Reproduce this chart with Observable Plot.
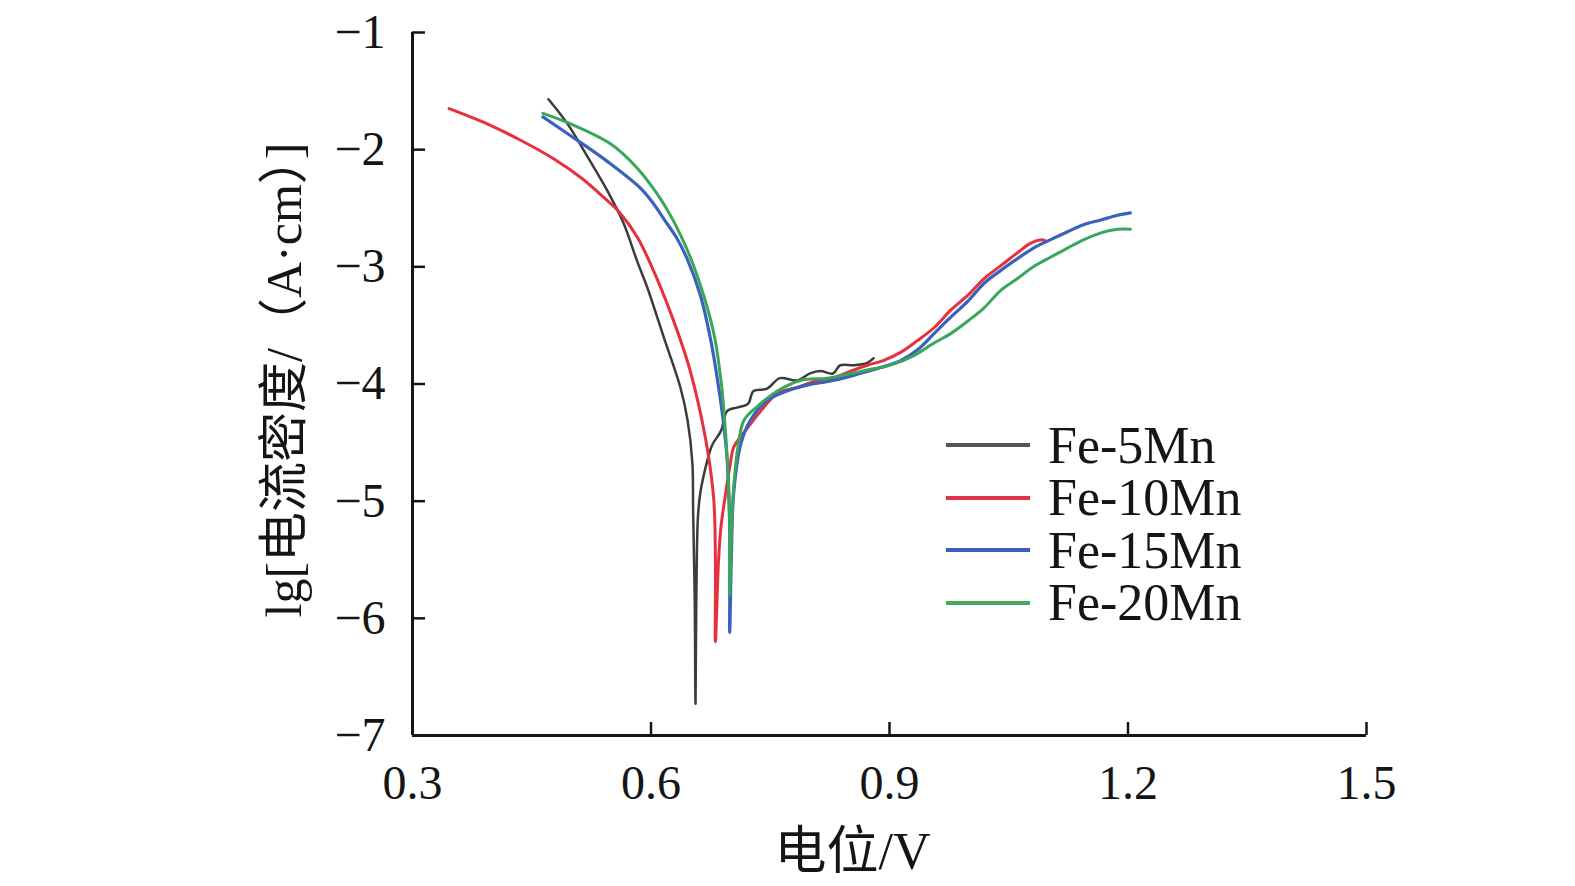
<!DOCTYPE html>
<html><head><meta charset="utf-8">
<script src="https://cdn.jsdelivr.net/npm/d3@7"></script>
<script src="https://cdn.jsdelivr.net/npm/@observablehq/plot@0.6"></script>
<style>
html,body{margin:0;padding:0;background:#fff;overflow:hidden;}
#wrap{position:relative;width:1575px;height:886px;overflow:hidden;}
#wrap svg{display:block;max-width:none !important;}
#legend{position:absolute;left:946px;top:419px;font-family:"Liberation Serif","Times New Roman",serif;font-size:52px;color:#151515;}
.row{display:flex;align-items:center;height:52.5px;}
.sw{width:84px;height:4px;margin-right:18px;}
</style></head><body><div id="wrap"><div id="legend"></div></div>
<script>
const series = ["Fe-5Mn","Fe-10Mn","Fe-15Mn","Fe-20Mn"];
const colors = ["#3c3c3c","#e5303e","#3a62bd","#3aa65b"];
const legendColors = ["#555555","#e0304a","#3a60b8","#45a862"];

const fe5V  = [0.471,0.495,0.521,0.545,0.565,0.583,0.595,0.616,0.637,0.646,0.652,0.653,0.655,0.656,0.657,0.659,0.662,0.671,0.677,0.688,0.696,0.709,0.722,0.729,0.746,0.762,0.784,0.800,0.813,0.829,0.838,0.855,0.872,0.880];
const fe5Lg = [-1.57,-1.78,-2.07,-2.35,-2.62,-2.96,-3.17,-3.60,-4.03,-4.31,-4.67,-5.08,-5.85,-6.73,-5.85,-5.14,-4.93,-4.65,-4.52,-4.40,-4.23,-4.20,-4.17,-4.06,-4.04,-3.95,-3.97,-3.91,-3.89,-3.91,-3.84,-3.84,-3.82,-3.78];

const fe10V  = [0.346,0.394,0.436,0.478,0.512,0.541,0.561,0.583,0.603,0.624,0.646,0.659,0.671,0.679,0.681,0.681,0.685,0.688,0.694,0.700,0.704,0.722,0.738,0.759,0.784,0.809,0.829,0.851,0.872,0.892,0.914,0.935,0.956,0.977,0.999,1.019,1.040,1.061,1.077,1.090,1.097];
const fe10Lg = [-1.65,-1.78,-1.92,-2.08,-2.24,-2.41,-2.54,-2.75,-3.03,-3.38,-3.81,-4.15,-4.56,-4.99,-5.50,-6.20,-5.50,-5.22,-4.93,-4.67,-4.54,-4.37,-4.23,-4.08,-4.03,-3.97,-3.95,-3.89,-3.84,-3.80,-3.73,-3.63,-3.52,-3.37,-3.24,-3.10,-2.99,-2.88,-2.80,-2.77,-2.78];

const fe15V  = [0.464,0.503,0.545,0.587,0.603,0.616,0.632,0.646,0.662,0.675,0.684,0.691,0.696,0.699,0.699,0.701,0.704,0.713,0.725,0.746,0.771,0.796,0.829,0.863,0.889,0.914,0.935,0.956,0.977,0.999,1.019,1.040,1.061,1.081,1.102,1.124,1.144,1.166,1.187,1.203];
const fe15Lg = [-1.72,-1.90,-2.10,-2.33,-2.46,-2.59,-2.75,-2.94,-3.24,-3.62,-3.98,-4.32,-4.66,-5.22,-6.12,-5.50,-4.93,-4.51,-4.31,-4.14,-4.06,-4.01,-3.97,-3.91,-3.86,-3.80,-3.71,-3.57,-3.43,-3.29,-3.14,-3.03,-2.93,-2.84,-2.77,-2.70,-2.64,-2.60,-2.56,-2.54];

const fe20V  = [0.464,0.499,0.549,0.583,0.608,0.626,0.642,0.653,0.667,0.680,0.688,0.692,0.696,0.699,0.699,0.701,0.704,0.710,0.717,0.734,0.759,0.788,0.822,0.851,0.880,0.905,0.930,0.956,0.977,0.999,1.019,1.040,1.061,1.081,1.102,1.124,1.144,1.166,1.187,1.203];
const fe20Lg = [-1.69,-1.78,-1.95,-2.16,-2.38,-2.58,-2.80,-2.98,-3.26,-3.60,-3.97,-4.25,-4.66,-5.22,-5.80,-5.33,-4.88,-4.51,-4.31,-4.19,-4.06,-3.97,-3.95,-3.91,-3.87,-3.83,-3.76,-3.65,-3.57,-3.46,-3.35,-3.20,-3.10,-3.00,-2.92,-2.84,-2.77,-2.71,-2.68,-2.68];

const xTicks = [0.3,0.6,0.9,1.2,1.5];
const yTicks = [-1,-2,-3,-4,-5,-6,-7];
const xLabel = "电位/V";
const yLabel = "lg[电流密度/（A·cm）]";

const allV = [fe5V, fe10V, fe15V, fe20V];
const allLg = [fe5Lg, fe10Lg, fe15Lg, fe20Lg];
const widths = [2.5, 3, 3.2, 3];
const tables = allV.map((vs, i) => vs.map((v, j) => ({v, lg: allLg[i][j], s: series[i]})));

const font = '"Liberation Serif","Times New Roman","Noto Sans CJK SC",serif';
const W = 1575, H = 886, mL = 412, mR = 209, mT = 32, mB = 151;
const plotW = W - mL - mR, plotH = H - mT - mB;

const chart = Plot.plot({
  width: W, height: H,
  marginLeft: mL, marginRight: mR, marginTop: mT, marginBottom: mB,
  x: {domain: [0.3, 1.5], axis: null},
  y: {domain: [-7, -1], axis: null},
  style: {fontFamily: font, background: "white", color: "#151515"},
  marks: [
    ...tables.map((t, i) => Plot.line(t, {x: "v", y: "lg", stroke: colors[i], strokeWidth: widths[i], strokeLinejoin: "round", curve: "catmull-rom"})),
    Plot.ruleX([0.3], {stroke: "#151515", strokeWidth: 3}),
    Plot.ruleY([-7], {stroke: "#151515", strokeWidth: 3}),
    Plot.tickX(xTicks, {x: d => d, insetTop: plotH - 13, stroke: "#151515", strokeWidth: 2.5}),
    Plot.tickY(yTicks, {y: d => d, insetRight: plotW - 13, stroke: "#151515", strokeWidth: 2.5}),
    Plot.text(xTicks, {x: d => d, frameAnchor: "bottom", dy: 48, text: d => d.toFixed(1), fontSize: 48, lineAnchor: "middle", fill: "#151515"}),
    Plot.text(yTicks, {y: d => d, frameAnchor: "left", textAnchor: "end", dx: -27, text: d => "\u2212" + Math.abs(d), fontSize: 48, lineAnchor: "middle", fill: "#151515"}),
    Plot.text([xLabel], {frameAnchor: "bottom", dx: -37, dy: 117, text: d => d, fontSize: 52, lineAnchor: "middle", textAnchor: "middle", fill: "#151515"}),
    Plot.text([yLabel], {frameAnchor: "left", dx: -128, dy: -4, rotate: -90, text: d => d, fontSize: 50, lineAnchor: "middle", textAnchor: "middle", fill: "#151515"})
  ]
});
const wrap = document.getElementById("wrap");
wrap.insertBefore(chart, wrap.firstChild);

const legend = document.getElementById("legend");
series.forEach((s, i) => {
  const row = document.createElement("div");
  row.className = "row";
  const sw = document.createElement("span");
  sw.className = "sw";
  sw.style.background = legendColors[i];
  const tx = document.createElement("span");
  tx.textContent = s;
  row.appendChild(sw); row.appendChild(tx);
  legend.appendChild(row);
});
</script></body></html>
